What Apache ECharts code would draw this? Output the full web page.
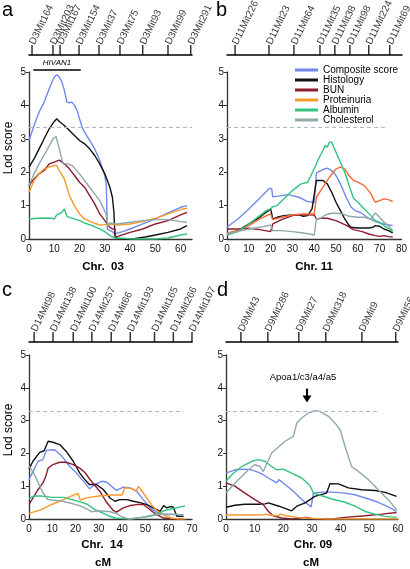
<!DOCTYPE html>
<html><head><meta charset="utf-8">
<script src="https://cdn.jsdelivr.net/npm/echarts@6/dist/echarts.min.js"></script>
<style>html,body{margin:0;padding:0;background:#fff}#c{width:410px;height:569px}</style>
</head><body><div id="c"></div>
<script>
// ---------- DATA ----------
const seriesNames = ['Composite score','Histology','BUN','Proteinuria','Albumin','Cholesterol'];

// Panel a: Chr. 03
const a_composite = [[0,2.95],[2,3.4],[4,3.8],[6,4.1],[8,4.5],[10,4.85],[11,4.92],[12,4.85],[13,4.7],[14,4.45],[15,4.1],[16,4.08],[17,4.1],[18,4.0],[19,3.85],[20,3.6],[21,3.35],[22,3.2],[24,2.95],[26,2.7],[28,2.35],[30,1.9],[30.6,1.6],[31,0.3],[32,0.25],[33,0.22],[33.5,0.2],[34,0.15],[37,0.22],[40,0.3],[45,0.45],[50,0.6],[55,0.78],[60,0.95],[62.5,1.0]];
const a_histology = [[0,2.15],[2,2.4],[4,2.7],[6,3.0],[8,3.3],[10,3.52],[11,3.6],[12,3.52],[14,3.4],[16,3.25],[18,3.1],[20,2.95],[22,2.85],[24,2.7],[26,2.5],[28,2.25],[30,1.95],[32,1.55],[33,1.25],[33.6,0.8],[34,0.1],[35,0.02],[38,0.0],[42,0.02],[46,0.06],[50,0.12],[55,0.2],[60,0.3],[62.5,0.4]];
const a_bun = [[0,1.6],[2,1.8],[4,1.95],[6,2.05],[8,2.25],[10,2.3],[12,2.36],[14,2.25],[16,2.1],[18,1.9],[20,1.7],[22,1.55],[24,1.3],[26,1.05],[28,0.75],[30,0.55],[31,0.45],[32,0.35],[33,0.3],[34,0.3],[34.2,0.05],[36,0.1],[40,0.2],[45,0.3],[50,0.45],[55,0.55],[60,0.72],[62.5,0.8]];
const a_proteinuria = [[0,1.4],[2,1.75],[4,1.95],[6,2.1],[8,2.15],[10,2.2],[11,2.2],[12,2.05],[14,1.8],[15,1.55],[16,1.3],[18,1.0],[20,0.75],[22,0.6],[25,0.5],[28,0.42],[30,0.43],[32,0.45],[35,0.42],[40,0.45],[45,0.52],[50,0.62],[55,0.75],[60,0.88],[62.5,0.92]];
const a_albumin = [[0,0.6],[5,0.63],[9,0.62],[10,0.6],[11,0.72],[13,0.8],[14,0.9],[14.5,0.93],[15,0.68],[16,0.65],[18,0.6],[20,0.55],[22,0.48],[25,0.4],[28,0.3],[30,0.22],[32,0.1],[34,0.03],[38,0.02],[42,0.0],[46,0],[50,0],[55,0.03],[60,0.12],[62.5,0.15]];
const a_cholesterol = [[0,1.6],[2,1.95],[4,2.25],[7,2.65],[9.5,3.0],[10.7,3.07],[12,2.7],[13.5,2.25],[15.5,2.25],[17,2.2],[20,1.95],[24,1.55],[28,1.15],[30.5,0.75],[31.2,0.4],[32,0.48],[35,0.45],[40,0.5],[45,0.55],[50,0.58],[55,0.58],[60,0.52],[62.5,0.5]];

// Panel b: Chr. 11
const b_composite = [[0,0.36],[5,0.6],[10,0.9],[15,1.22],[19.5,1.52],[20.5,1.5],[21,1.26],[25,1.3],[28,1.33],[33,1.25],[37,1.12],[40,1.1],[41,1.98],[44,2.08],[46,2.12],[48,2.05],[50,1.9],[52,1.65],[55,1.2],[57,0.95],[59,0.84],[61,0.8],[65,0.62],[69,0.5],[72,0.45],[76,0.4]];
const b_histology = [[0,0.15],[5,0.25],[10,0.45],[15,0.65],[20,0.9],[20.5,0.92],[21,0.6],[23,0.65],[26,0.7],[30,0.72],[33,0.72],[35,0.68],[37,0.7],[39,0.9],[41,1.75],[44,1.75],[46,1.65],[48,1.4],[50,1.1],[52,0.85],[54,0.6],[56,0.4],[57,0.35],[60,0.33],[65,0.33],[67,0.35],[68,0.4],[70,0.38],[72,0.3],[74,0.25],[76,0.18]];
const b_bun = [[0,0.3],[5,0.3],[10,0.32],[15,0.28],[20,0.22],[20.5,0.22],[21,0.45],[25,0.58],[30,0.7],[35,0.73],[40,0.72],[41,0.6],[43,0.62],[46,0.62],[50,0.55],[55,0.4],[58,0.28],[62,0.22],[65,0.15],[68,0.1],[70,0.08],[72,0.1],[74,0.07],[76,0.06]];
const b_proteinuria = [[0,0.18],[5,0.25],[10,0.4],[15,0.6],[20,0.75],[20.5,0.75],[21,0.58],[25,0.65],[30,0.72],[35,0.75],[40,0.75],[41,1.25],[44,1.55],[47,1.85],[50,2.1],[52,2.15],[54,2.1],[56,1.9],[58,1.75],[60,1.7],[63,1.6],[66,1.35],[68,1.1],[70,1.15],[72,1.2],[74,1.18],[76,1.12]];
const b_albumin = [[0,0.12],[5,0.22],[10,0.45],[15,0.7],[18,0.85],[20,0.9],[21,0.97],[23,1.0],[26,1.2],[30,1.45],[34,1.65],[37,1.7],[40,2.1],[42,2.4],[44,2.65],[45,2.8],[46,2.75],[47,2.9],[48,2.9],[50,2.6],[52,2.3],[54,2.0],[56,1.6],[58,1.22],[60,1.1],[63,0.9],[66,0.7],[68,0.55],[70,0.5],[72,0.4],[74,0.32],[76,0.22]];
const b_cholesterol = [[0,0.15],[5,0.23],[10,0.3],[15,0.35],[20,0.42],[21,0.25],[25,0.25],[30,0.22],[35,0.18],[38,0.15],[40,0.12],[41,0.6],[43,0.62],[45,0.72],[48,0.77],[50,0.77],[53,0.75],[56,0.68],[60,0.65],[63,0.65],[66,0.6],[68,0.78],[70,0.65],[72,0.5],[74,0.4],[76,0.25]];

// Panel c: Chr. 14
const c_composite = [[0,1.2],[1.7,1.45],[3.9,1.76],[6,1.81],[7.5,2.1],[8.2,2.13],[11,2.11],[13.9,1.93],[17.5,1.6],[20.4,1.4],[24,1.1],[26,0.92],[28.3,1.05],[31.2,1.15],[33.3,1.13],[36.2,0.95],[37.6,0.87],[40.5,0.97],[43.4,0.95],[46.3,0.84],[49.1,0.59],[52,0.34],[54.9,0.2],[57.8,0.15],[60.6,0.15],[63.5,0.13],[66.4,0.13]];
const c_histology = [[0,1.52],[1.7,1.76],[4.6,2.03],[6.5,2.08],[8.2,2.37],[10.3,2.34],[13.2,2.27],[16,2.06],[19,1.76],[21.8,1.4],[24,1.2],[25.9,1.05],[29,1.05],[31.9,0.9],[34.8,0.64],[36.9,0.54],[39,0.59],[42,0.59],[44.8,0.54],[47.7,0.5],[50.6,0.44],[53.4,0.34],[56.3,0.23],[57.8,0.41],[59.2,0.34],[60.6,0.38],[62,0.36],[63.5,0.08],[66.4,0.08]];
const c_bun = [[0,0.44],[1.7,0.64],[3.9,0.9],[6,1.1],[7.2,1.3],[8.2,1.55],[10.3,1.66],[13.2,1.73],[16,1.73],[19,1.66],[21.8,1.55],[24,1.42],[26,1.22],[28.3,1.02],[30.5,0.84],[33.3,0.51],[36.2,0.26],[37.6,0.21],[40.5,0.34],[43.4,0.41],[46.3,0.44],[49.1,0.44],[52,0.28],[54.9,0.13],[57.8,0.03],[62,0],[66.4,0]];
const c_proteinuria = [[0,0.17],[5,0.28],[10,0.45],[15,0.6],[20,0.76],[21,0.78],[22,0.58],[25,0.65],[30,0.7],[35,0.73],[40,0.73],[41,0.95],[44,0.93],[46,0.85],[47,1.0],[49,0.8],[51,0.6],[53,0.4],[55,0.25],[58,0.12],[61,0.03],[64,0.0],[67,0.0]];
const c_albumin = [[0,0.62],[2,0.7],[5,0.7],[10,0.66],[15,0.66],[18,0.6],[22,0.52],[25,0.45],[28,0.3],[31,0.2],[34,0.1],[37,0.03],[40,0.01],[44,0.0],[48,0.04],[52,0.1],[55,0.15],[58,0.25],[62,0.32],[67,0.4]];
const c_cholesterol = [[0,1.62],[2,1.4],[4,1.1],[6,0.8],[8,0.6],[10,0.58],[14,0.55],[18,0.48],[22,0.4],[25,0.3],[27,0.22],[30,0.25],[35,0.22],[38,0.15],[40,0.06],[43,0.0],[46,0.03],[50,0.06],[53,0.1],[56,0.15],[60,0.13],[63,0.15],[66,0.12]];

// Panel d: Chr. 09
const d_composite = [[0,1.4],[3.1,1.5],[6.6,1.52],[8.9,1.5],[11.3,1.42],[13,1.35],[14.8,1.25],[17.7,1.1],[18.5,1.2],[20.6,1.05],[22.9,0.89],[25.3,0.69],[27.6,0.51],[29.7,0.37],[30.5,0.79],[33.4,0.82],[36.9,0.82],[41.5,0.79],[45,0.74],[49.7,0.61],[53.1,0.51],[56.6,0.37],[59.5,0.23]];
const d_histology = [[0,0.36],[3.1,0.42],[6.6,0.45],[11.3,0.45],[13.6,0.46],[14.8,0.49],[18.5,0.39],[22.9,0.25],[24.7,0.39],[27.6,0.49],[31,0.69],[35.1,0.79],[36.3,1.08],[39.2,1.07],[42.7,0.95],[47.3,0.89],[52,0.87],[55.5,0.81],[59.5,0.69]];
const d_bun = [[0,1.1],[3.1,1.0],[6.6,0.79],[10.1,0.59],[13,0.44],[14.8,0.23],[16.5,0.1],[19.4,0.03],[22.9,0],[27.6,0.05],[31,0],[36.9,0],[41.5,0.05],[48.5,0.1],[54.3,0.15],[59.5,0.2]];
const d_proteinuria = [[0,0.12],[5,0.12],[10,0.12],[13,0.13],[14,0.15],[15,0.12],[18,0.1],[19,0.15],[21,0.1],[25,0.05],[30,0.02],[35,0.0],[40,0],[50,0],[60,0]];
const d_albumin = [[0,1.15],[2,1.35],[5.5,1.6],[9,1.76],[11.3,1.81],[13.6,1.76],[15.9,1.6],[17.7,1.5],[20,1.52],[22.9,1.4],[26.4,1.25],[29.3,1.02],[30.5,0.79],[33.4,0.71],[36.9,0.61],[41.5,0.51],[45,0.39],[48.5,0.23],[52,0.15],[55.5,0.08],[59.5,0.05]];
const d_cholesterol = [[0,0.79],[4.3,1.2],[7.8,1.5],[10.1,1.66],[11.9,1.6],[13,1.45],[15.9,2.01],[20.6,2.37],[23.5,2.52],[24.7,2.93],[26.4,3.08],[28.7,3.23],[31,3.3],[32.8,3.28],[35.7,3.13],[38,2.93],[39.8,2.72],[41.5,2.22],[43.8,1.6],[46.2,1.45],[49.7,1.2],[53.1,0.89],[56.6,0.59],[59.5,0.28]];

// Marker tracks (cM positions and names)
const a_markerPos = [1.2, 9.5, 12.3, 19.8, 27.7, 36, 45, 55, 64];
const a_markerNames = ['D3Mit164','D3Mit203','D3Mit167','D3Mit154','D3Mit37','D3Mit75','D3Mit93','D3Mit99','D3Mit291'];
const b_markerPos = [3.7, 19.2, 30.6, 42.5, 49.3, 56.2, 64.8, 74.4];
const b_markerNames = ['D11Mit226','D11Mit23','D11Mit64','D11Mit35','D11Mit38','D11Mit98','D11Mit224','D11Mit69'];
const c_markerPos = [2.2, 10.3, 19, 27, 35.3, 43.5, 53.9, 62, 70];
const c_markerNames = ['D14Mit98','D14Mit138','D14Mit100','D14Mit257','D14Mit66','D14Mit193','D14Mit165','D14Mit266','D14Mit107'];
const d_markerPos = [5.2, 14.6, 25.4, 34.8, 47.4, 59.2];
const d_markerNames = ['D9Mit43','D9Mit286','D9Mit27','D9Mit318','D9Mit9','D9Mit56'];

const chrLabels = ['Chr.  03','Chr. 11','Chr.  14','Chr. 09'];
const panelLetters = ['a','b','c','d'];
const xMax = [64.5, 80, 70, 60];
const thresholds = [3.35, 3.35, 3.3, 3.3];
const thresholdEnd = [64.5, 73, 66.5, 53.3];
const hivan1 = [1.7, 20.5];
const apoaPos = [28.25, 3.55];
const yTicks = [0,1,2,3,4,5];

// ---------- STYLE ----------
const FONT = '"Liberation Sans", Arial, Helvetica, sans-serif';
const colors = ['#7189ee','#111111','#8c1b2d','#f7982c','#33c47f','#8fa8a9'];
const bProteinColor = '#f4683a';

const panels = [
  [a_composite,a_histology,a_bun,a_proteinuria,a_albumin,a_cholesterol],
  [b_composite,b_histology,b_bun,b_proteinuria,b_albumin,b_cholesterol],
  [c_composite,c_histology,c_bun,c_proteinuria,c_albumin,c_cholesterol],
  [d_composite,d_histology,d_bun,d_proteinuria,d_albumin,d_cholesterol]
];
const markers = [[a_markerPos,a_markerNames],[b_markerPos,b_markerNames],[c_markerPos,c_markerNames],[d_markerPos,d_markerNames]];

const plotGrids = [
  {left:29, top:72, width:163, height:167},
  {left:227, top:72, width:175, height:167},
  {left:29, top:355, width:163, height:164},
  {left:226, top:355, width:172, height:164}
];
const trackGrids = [
  {left:29, top:45, width:163, height:10},
  {left:227, top:45, width:175, height:10},
  {left:29, top:332, width:163, height:10},
  {left:226, top:332, width:172, height:10}
];

const grid = [], xAxis = [], yAxis = [], series = [];
plotGrids.forEach((g,i)=>{
  grid.push(Object.assign({containLabel:false}, g));
  xAxis.push({gridIndex:i, type:'value', min:0, max:xMax[i], interval:10,
    axisLine:{show:true,onZero:false,lineStyle:{color:'#333',width:1.3}},
    axisTick:{show:false}, splitLine:{show:false},
    axisLabel:{fontSize:10, color:'#111', fontFamily:FONT, margin:5,
      formatter:v=> (Math.abs(v%10)<1e-9 ? String(v) : '')}});
  yAxis.push({gridIndex:i, type:'value', min:0, max:5, interval:1,
    axisLine:{show:true,onZero:false,lineStyle:{color:'#333',width:1.3}},
    axisTick:{show:true,length:3,lineStyle:{color:'#333'}}, splitLine:{show:false},
    axisLabel:{fontSize:10, color:'#111', fontFamily:FONT, margin:3}});
});
trackGrids.forEach((g,i)=>{
  grid.push(Object.assign({containLabel:false}, g));
  xAxis.push({gridIndex:4+i, type:'value', min:0, max:xMax[i],
    axisLine:{show:true,onZero:false,lineStyle:{color:'#000',width:1.5}},
    axisTick:{show:false}, axisLabel:{show:false}, splitLine:{show:false}});
  yAxis.push({gridIndex:4+i, type:'value', min:0, max:1, show:false});
});

panels.forEach((arrs,pi)=>{
  arrs.forEach((data,si)=>{
    const col = (pi===1 && si===3) ? bProteinColor : colors[si];
    const s = {type:'line', name:seriesNames[si], data:data, xAxisIndex:pi, yAxisIndex:pi,
      showSymbol:false, symbol:'none', animation:false, silent:true,
      lineStyle:{width:1.4, color:col}, itemStyle:{color:col}, z: 3};
    if (si===0) {
      s.markLine = {silent:true, symbol:'none', animation:false, label:{show:false},
        lineStyle:{type:[4,3], color:'#a9bcc4', width:1},
        data:[[{coord:[0,thresholds[pi]]},{coord:[thresholdEnd[pi],thresholds[pi]]}]]};
    }
    series.push(s);
  });
});

markers.forEach(([pos,names],i)=>{
  series.push({type:'scatter', xAxisIndex:4+i, yAxisIndex:4+i, silent:true, animation:false,
    data: pos.map((p,k)=>({value:[p,0.5], name:names[k]})),
    symbol:'rect', symbolSize:[1.5,10], itemStyle:{color:'#000'},
    label:{show:true, formatter:'{b}', position:'top', distance:1, rotate:64,
      align:'left', verticalAlign:'middle', fontSize:10, fontFamily:FONT, color:'#000'}});
});

// HIVAN1 bar
series.push({type:'custom', xAxisIndex:0, yAxisIndex:0, clip:false, silent:true, animation:false,
  data:[hivan1], encode:{x:[0,1]},
  renderItem:(params, api)=>{
    const p0 = api.coord([api.value(0), 5]);
    const p1 = api.coord([api.value(1), 5]);
    return {type:'group', children:[
      {type:'line', shape:{x1:p0[0], y1:p0[1]-2, x2:p1[0], y2:p1[1]-2}, style:{stroke:'#000', lineWidth:1.5}},
      {type:'text', style:{text:'HIVAN1', x:(p0[0]+p1[0])/2, y:p0[1]-9, align:'center', verticalAlign:'middle',
        font:'italic 8px '+FONT, fill:'#000'}}
    ]};
  }});

// Apoa arrow
series.push({type:'custom', xAxisIndex:3, yAxisIndex:3, clip:false, silent:true, animation:false,
  data:[apoaPos], encode:{x:0, y:1},
  renderItem:(params, api)=>{
    const t = api.coord([api.value(0), api.value(1)]);
    return {type:'group', children:[
      {type:'line', shape:{x1:t[0], y1:t[1]-14, x2:t[0], y2:t[1]-6}, style:{stroke:'#000', lineWidth:2}},
      {type:'polygon', shape:{points:[[t[0]-4.5,t[1]-7],[t[0]+4.5,t[1]-7],[t[0],t[1]]]}, style:{fill:'#000'}},
      {type:'text', style:{text:'Apoa1/c3/a4/a5', x:t[0]-4, y:t[1]-25, align:'center', verticalAlign:'middle',
        font:'9.5px '+FONT, fill:'#000'}}
    ]};
  }});

const graphic = [];
const letterPos = [[2,10],[216,10],[2,290],[217,290]];
panelLetters.forEach((l,i)=>graphic.push({type:'text', left:null, x:letterPos[i][0], y:letterPos[i][1],
  style:{text:l, font:'20px '+FONT, fill:'#000', align:'left', verticalAlign:'middle'}}));
const chrPos = [[103,267],[314,267],[102,545],[313,545]];
chrLabels.forEach((t,i)=>graphic.push({type:'text', x:chrPos[i][0], y:chrPos[i][1],
  style:{text:t, font:'bold 11.5px '+FONT, fill:'#000', align:'center', verticalAlign:'middle'}}));
[[103,563],[311,563]].forEach(p=>graphic.push({type:'text', x:p[0], y:p[1],
  style:{text:'cM', font:'bold 11.5px '+FONT, fill:'#000', align:'center', verticalAlign:'middle'}}));
[[9,148],[9,430]].forEach(p=>graphic.push({type:'text', x:p[0], y:p[1], rotation:Math.PI/2,
  style:{text:'Lod score', font:'12px '+FONT, fill:'#000', align:'center', verticalAlign:'middle'}}));

const option = {
  backgroundColor:'#fff', animation:false,
  grid, xAxis, yAxis, series, graphic,
  legend:{data:seriesNames, orient:'vertical', left:295, top:65, padding:0, itemGap:0,
    itemWidth:23, itemHeight:3, icon:'rect', selectedMode:false,
    textStyle:{fontSize:10, lineHeight:9.3, fontFamily:FONT, color:'#000', padding:[0,0,0,0]}, itemStyle:{borderWidth:0}}
};
const chart = echarts.init(document.getElementById('c'), null, {renderer:'canvas'});
chart.setOption(option);
</script></body></html>
